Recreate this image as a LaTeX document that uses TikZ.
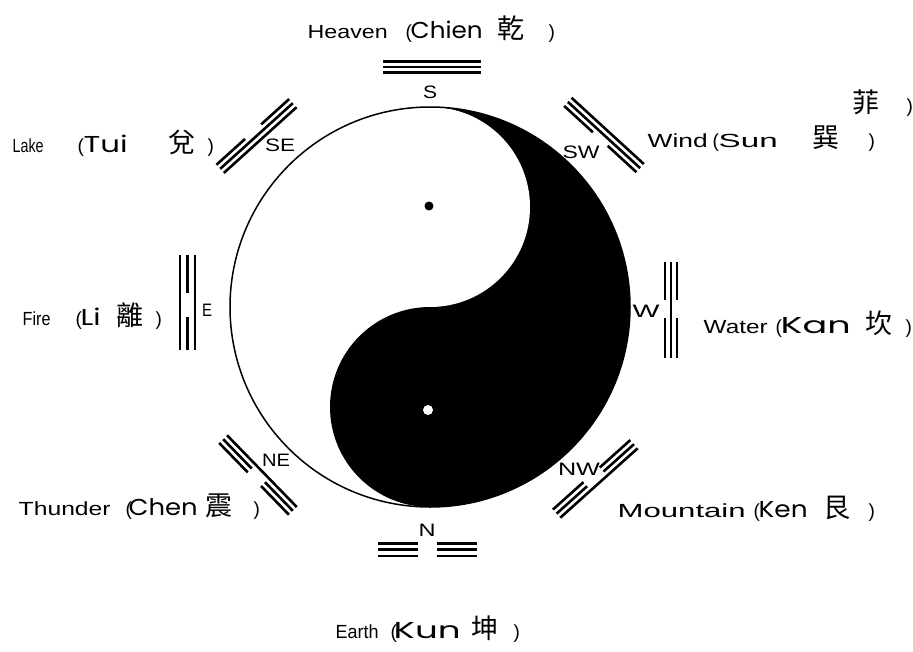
\documentclass[tikz,border=0pt]{standalone}
\usepackage{fontspec}
\usepackage{graphicx}
\setmainfont{Liberation Sans}
\newfontfamily\enf{Liberation Sans}
\newfontfamily\rof{Poppins}
\newfontfamily\zhf{Noto Sans CJK TC}
\newcommand\PL[2]{\rlap{\hspace*{#1pt}#2}}
\newcommand\PC[2]{\rlap{\hspace*{#1pt}\makebox[0pt][c]{#2}}}
\newcommand\EN[2]{\resizebox{#1pt}{\height}{\enf\fontsize{19}{21}\selectfont #2}}
\newcommand\RO[2]{\resizebox{#1pt}{\height}{\rof\fontsize{23}{25}\selectfont #2}}
\newcommand\ZH[1]{{\zhf\fontsize{27}{29}\selectfont #1}}
\newcommand\PA[1]{{\enf\fontsize{19}{21}\selectfont #1}}
\newcommand\CP[2]{\resizebox{#1pt}{\height}{\enf\fontsize{18}{20}\selectfont #2}}
\tikzset{
  tri/.style={line width=2.6pt},
  lbl/.style={inner sep=0pt, anchor=base west},
  cmp/.style={inner sep=0pt, anchor=center}
}
% solid trigram line: cx, cy, angle, offset, half length
\newcommand\SL[5]{\draw[tri] (#1,#2) ++(#3+90:#4) ++(#3:-#5) -- ++(#3:2*#5);}
% broken trigram line: cx, cy, angle, offset, half length, gap start, gap end
\newcommand\BL[7]{\draw[tri] (#1,#2) ++(#3+90:#4) ++(#3:-#5) -- ++(#3:#5+#6)
  (#1,#2) ++(#3+90:#4) ++(#3:#7) -- ++(#3:#5-#7);}
\begin{document}
\begin{tikzpicture}[x=1pt,y=-1pt]
\fill[white] (0,0) rectangle (913,651);
\useasboundingbox (0,0) rectangle (913,651);

% yin-yang
\begin{scope}
  \clip (430,100) rectangle (640,515);
  \fill[black] (430,307) circle (200);
\end{scope}
\fill[black] (430,407) circle (100);
\fill[white] (430,207) circle (100);
\draw[line width=1.5pt] (430,307) circle (200);
\fill[black] (429,206) circle (4.5);
\fill[white] (428,410) circle (5);

% Heaven (S) - all solid
\SL{432}{67}{0}{-5.3}{49}
\SL{432}{67}{0}{0}{49}
\SL{432}{67}{0}{5.3}{49}
% Earth (N) - all broken
\BL{427.5}{549.5}{0}{-6.3}{49.5}{-9.5}{9.5}
\BL{427.5}{549.5}{0}{0}{49.5}{-9.5}{9.5}
\BL{427.5}{549.5}{0}{6.3}{49.5}{-9.5}{9.5}
% Fire (E)
\SL{187.5}{302.5}{90}{7.5}{47.5}
\BL{187.5}{302.5}{90}{0}{47.5}{-9.5}{14.5}
\SL{187.5}{302.5}{90}{-7.5}{47.5}
% Water (W)
\BL{671}{310}{90}{6}{48}{-10}{8}
\SL{671}{310}{90}{0}{48}
\BL{671}{310}{90}{-6}{48}{-10}{8}
% Lake (SE)
\BL{256.5}{136}{-42.1}{-5.5}{49}{-10.5}{11.3}
\SL{256.5}{136}{-42.1}{0}{49}
\SL{256.5}{136}{-42.1}{5.5}{49}
% Wind (SW)
\SL{604}{135}{42.5}{-5.5}{49}
\SL{604}{135}{42.5}{0}{49}
\BL{604}{135}{42.5}{5.5}{49}{-10}{10}
% Thunder (NE)
\SL{258}{475}{45.8}{-5.5}{50}
\BL{258}{475}{45.8}{0}{50}{-9}{10}
\BL{258}{475}{45.8}{5.5}{50}{-9}{10}
% Mountain (NW)
\BL{595.3}{478.9}{-41.9}{-5.5}{52}{-11}{11}
\BL{595.3}{478.9}{-41.9}{0}{52}{-11}{11}
\SL{595.3}{478.9}{-41.9}{5.5}{52}

% compass letters
\node[cmp] (cS)  at (430,92)  {\CP{14}{S}};
\node[cmp] (cN)  at (427,530) {\CP{17}{N}};
\node[cmp] (cE)  at (207,310) {\CP{10}{E}};
\node[cmp] (cW)  at (646,311) {\CP{27}{W}};
\node[cmp] (cSE) at (280,145) {\CP{30}{SE}};
\node[cmp] (cSW) at (581,152) {\CP{37}{SW}};
\node[cmp] (cNE) at (276,460) {\CP{28}{NE}};
\node[cmp] (cNW) at (579,469) {\CP{42}{NW}};

% labels
\node[lbl] (heaven) at (307,38) {\PL{0}{\EN{80}{Heaven}}\PL{98}{\PA{(}}\PL{103}{\RO{72}{Chien}}\PC{203}{\ZH{乾}}\PL{241}{\PA{)}}};
\node[lbl] (lake) at (12,152) {\PL{0}{\EN{31}{Lake}}\PL{65}{\PA{(}}\PL{71}{\RO{44}{Tui}}\PC{169}{\ZH{兌}}\PL{195}{\PA{)}}};
\node[lbl] (wind) at (647,147) {\PL{0}{\EN{60}{Wind}}\PL{65}{\PA{(}}\PL{71}{\EN{59}{Sun}}\PC{178}{\ZH{巽}}\PL{221}{\PA{)}}};
\node[lbl] (windx) at (852,112) {\PC{13}{\ZH{菲}}\PL{54}{\PA{)}}};
\node[lbl] (fire) at (22,325) {\PL{0}{\EN{28}{Fire}}\PL{53}{\PA{(}}\PL{58}{\RO{20}{Li}}\PC{107.5}{\ZH{離}}\PL{133}{\PA{)}}};
\node[lbl] (water) at (703,333) {\PL{0}{\EN{64}{Water}}\PL{72}{\PA{(}}\PL{77}{\RO{70}{Kan}}\PC{175.5}{\ZH{坎}}\PL{202}{\PA{)}}};
\node[lbl] (thunder) at (18,515) {\PL{0}{\EN{92}{Thunder}}\PL{107}{\PA{(}}\PL{110}{\RO{69}{Chen}}\PC{200}{\ZH{震}}\PL{235}{\PA{)}}};
\node[lbl] (mountain) at (617,517) {\PL{0}{\EN{128}{Mountain}}\PL{136}{\PA{(}}\PL{141}{\RO{49}{Ken}}\PC{219.5}{\ZH{艮}}\PL{251}{\PA{)}}};
\node[lbl] (earth) at (335,638) {\PL{0}{\EN{43}{Earth}}\PL{55}{\PA{(}}\PL{58}{\RO{67}{Kun}}\PC{149}{\ZH{坤}}\PL{178}{\PA{)}}};
\end{tikzpicture}
\end{document}
